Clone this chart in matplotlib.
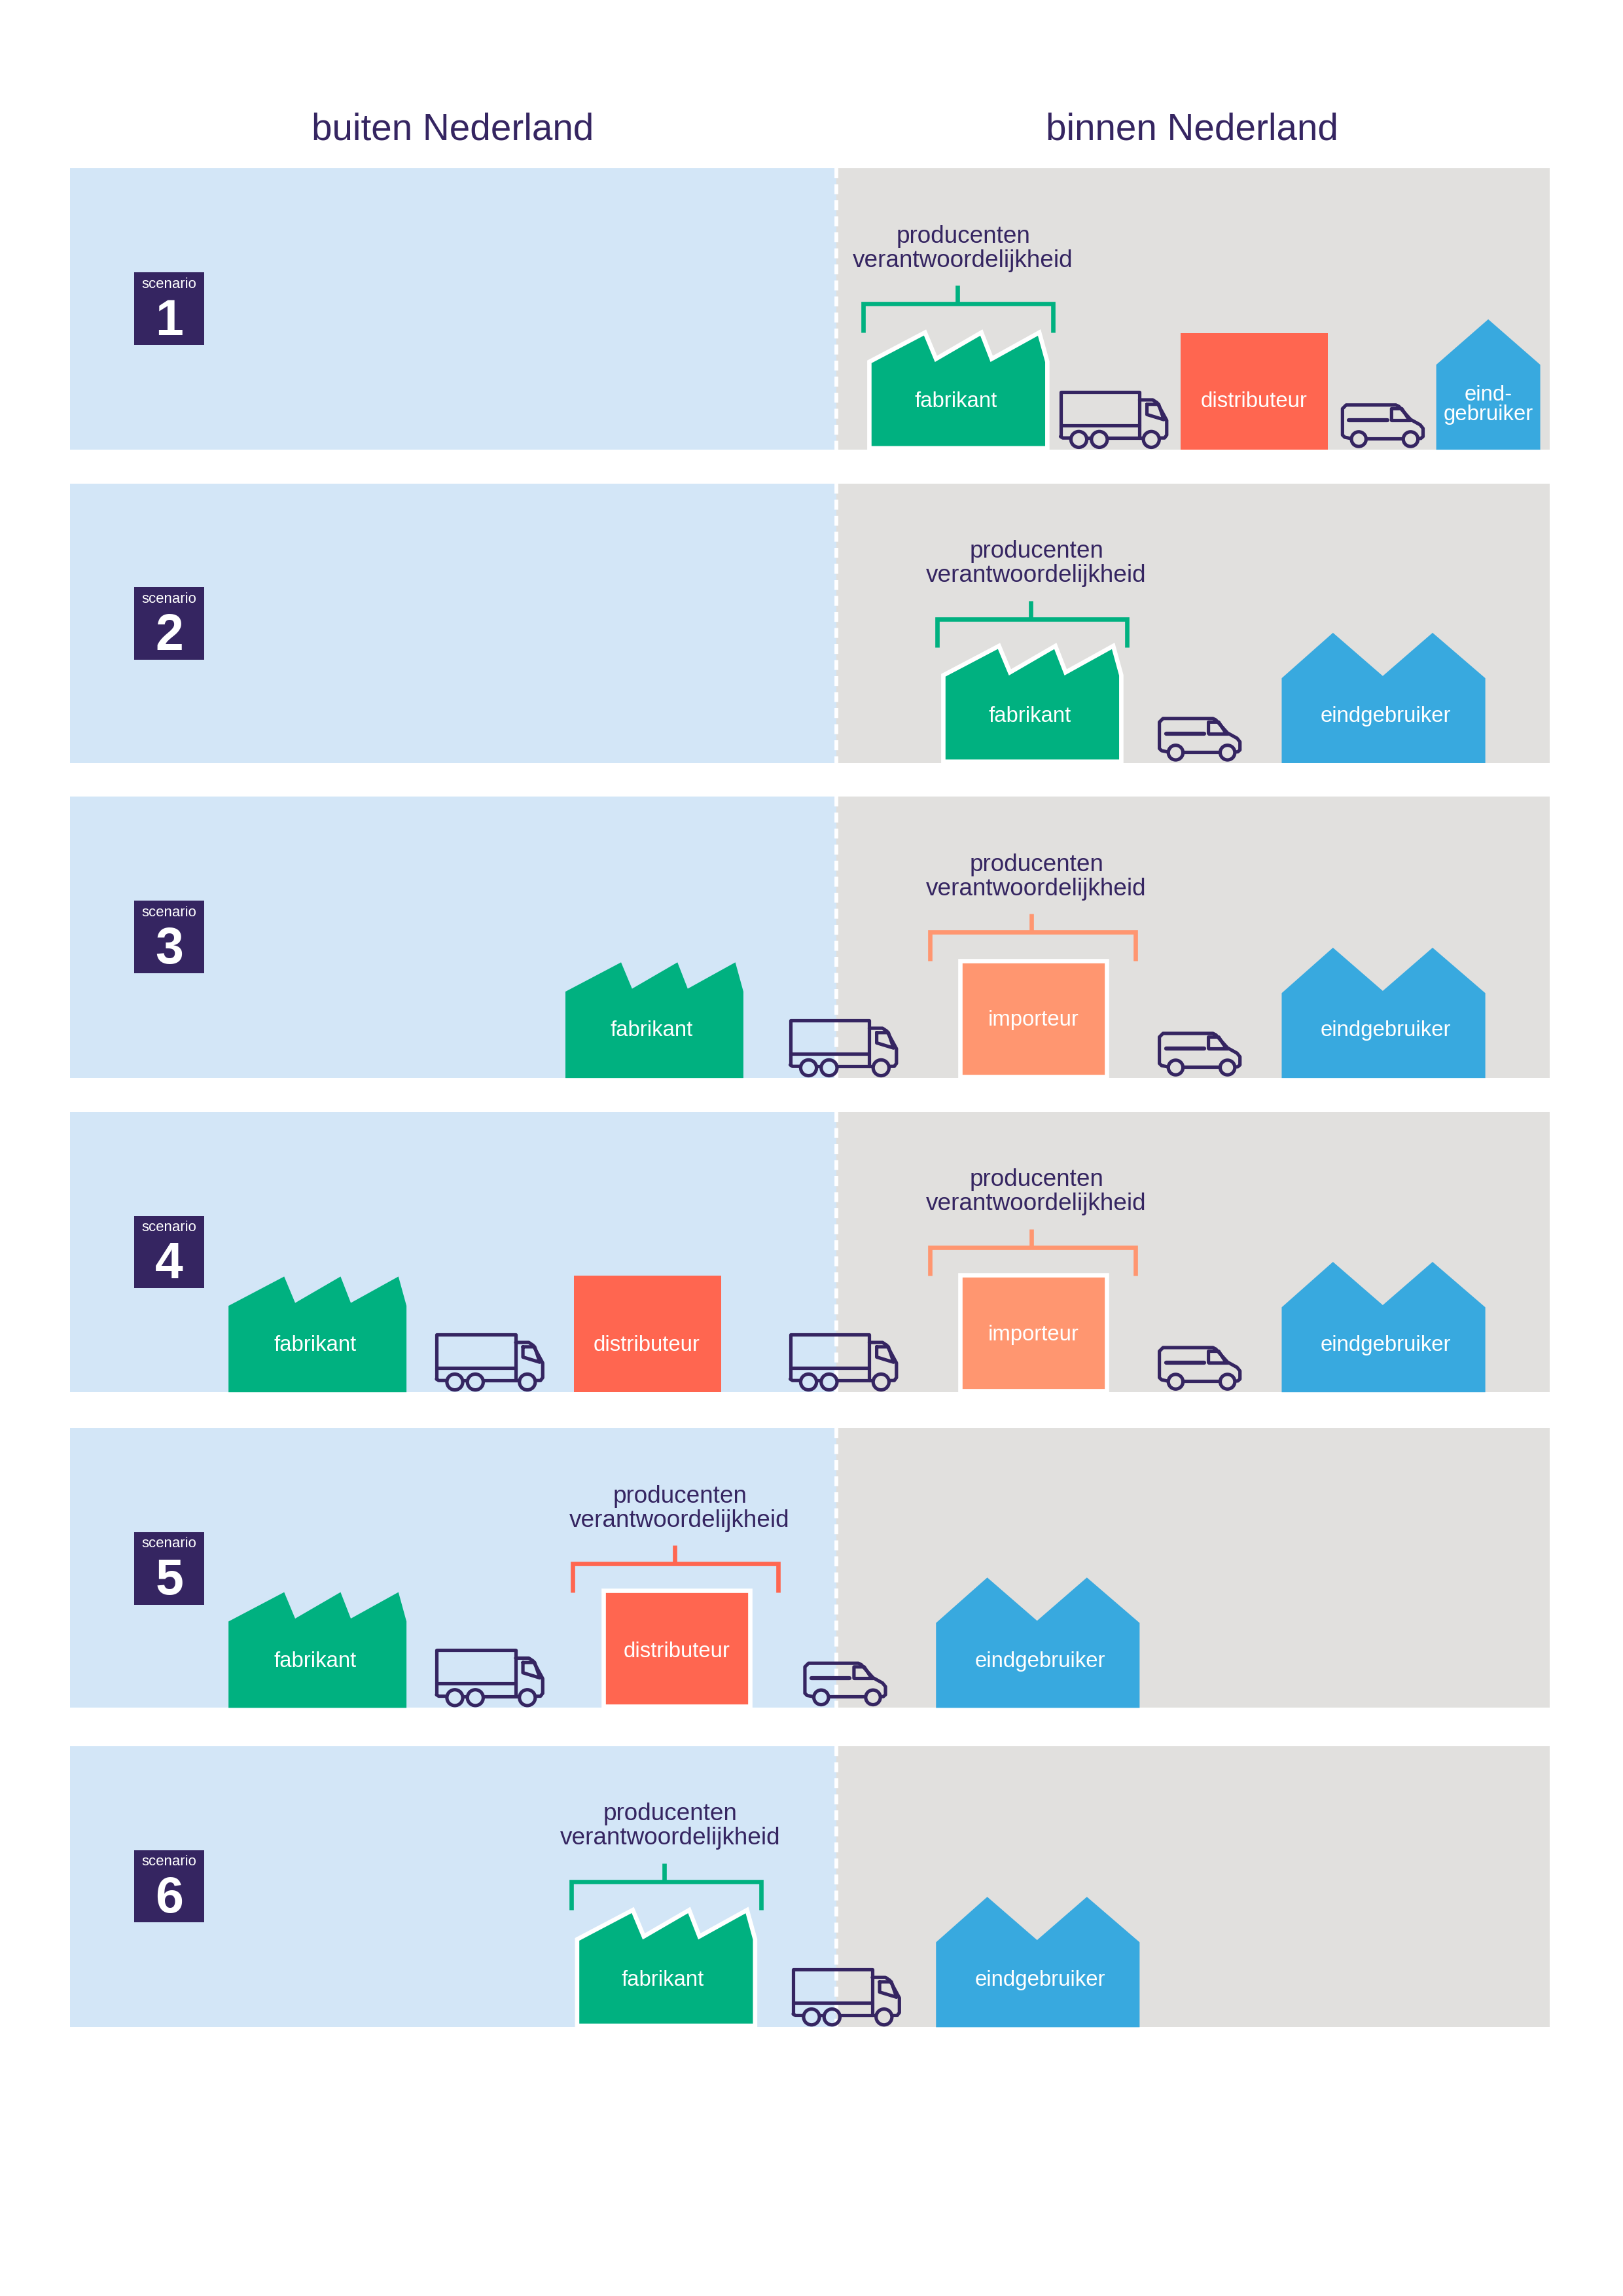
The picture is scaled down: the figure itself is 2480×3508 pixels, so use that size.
import matplotlib
matplotlib.use("Agg")
import matplotlib.pyplot as plt
from matplotlib.patches import Polygon, Rectangle, Circle

plt.rcParams['font.family'] = ['Liberation Sans', 'DejaVu Sans']

# Colours
NAVY = '#352561'
LIGHT_BLUE = '#D3E6F7'
GREY = '#E1E0DE'
GREEN = '#00B180'
RED = '#FF6650'
ORANGE = '#FF9670'
BLUE = '#38A9DF'

# Outline shapes, x from left edge, h up from the ground
FACTORY = [(0, 0), (0, 59), (38, 79), (45.5, 61), (76.5, 79), (83.5, 61), (116, 79), (121.5, 59), (121.5, 0)]
USER_DOUBLE = [(0, 0), (0, 58), (35, 89), (69, 59.5), (103, 89), (139, 58), (139, 0)]
USER_SINGLE = [(0, 0), (0, 58), (35.5, 89), (71, 58), (71, 0)]

# One entry per scenario: panel top/bottom and what stands in it
scenarios = [
    {'top': 115, 'bottom': 307,
     'text_x': 657.5,
     'bracket': (589.5, 719, 653.5, GREEN),
     'factory': [(593.5, 274, 652.5, True)],
     'dist': [(806, 274, 856, False)],
     'import': [],
     'user': [('single', 980.5, None, None)],
     'truck': [724], 'van': [916]},
    {'top': 330, 'bottom': 521,
     'text_x': 707.5,
     'bracket': (640, 769.5, 703.5, GREEN),
     'factory': [(644, 489, 703, True)],
     'dist': [], 'import': [],
     'user': [('double', 875, 946, 489)],
     'truck': [], 'van': [791]},
    {'top': 544, 'bottom': 736,
     'text_x': 707.5,
     'bracket': (635, 775, 704, ORANGE),
     'factory': [(386, 703.5, 445, False)],
     'dist': [],
     'import': [(655.5, 696.5, 705.5)],
     'user': [('double', 875, 946, 703.5)],
     'truck': [539.5], 'van': [791]},
    {'top': 759, 'bottom': 950.5,
     'text_x': 707.5,
     'bracket': (635, 775, 704, ORANGE),
     'factory': [(156, 918.5, 215, False)],
     'dist': [(392, 918.5, 441.5, False)],
     'import': [(655.5, 911.5, 705.5)],
     'user': [('double', 875, 946, 918.5)],
     'truck': [298, 539.5], 'van': [791]},
    {'top': 975, 'bottom': 1166,
     'text_x': 464,
     'bracket': (391, 531, 460.5, RED),
     'factory': [(156, 1134.5, 215, False)],
     'dist': [(412, 1127.5, 462, True)],
     'import': [],
     'user': [('double', 639, 710, 1134.5)],
     'truck': [298], 'van': [549]},
    {'top': 1192, 'bottom': 1384,
     'text_x': 457.5,
     'bracket': (390, 519.5, 453.5, GREEN),
     'factory': [(394, 1352, 452.5, True)],
     'dist': [], 'import': [],
     'user': [('double', 639, 710, 1352)],
     'truck': [541.5], 'van': []},
]

fig = plt.figure(figsize=(2480 / 300, 3508 / 300), dpi=300)
ax = fig.add_axes([0, 0, 1, 1])
ax.set_xlim(0, 1108)
ax.set_ylim(1567.5, 0)
ax.axis('off')


def building(outline, x0, ground, color, white_edge=False):
    pts = [(x0 + x, ground - h) for x, h in outline]
    ec = 'white' if white_edge else 'none'
    ax.add_patch(Polygon(pts, closed=True, facecolor=color, edgecolor=ec, lw=1.6, joinstyle='miter', zorder=3))


def line(pts, x0, ground, lw=1.25):
    ax.plot([x0 + p[0] for p in pts], [ground - p[1] for p in pts], color=NAVY, lw=lw,
            solid_joinstyle='round', solid_capstyle='round', zorder=4)


def wheel(x, y, r):
    ax.add_patch(Circle((x, y), r, facecolor='none', edgecolor=NAVY, lw=1.25, zorder=5))


def truck(x0, ground):
    line([(0, 8), (0, 38.5), (54, 38.5), (54, 7)], x0, ground)
    line([(0, 15.6), (54, 15.6)], x0, ground)
    line([(54, 33), (63, 33), (66, 31), (72.5, 19), (72.5, 9), (71, 7), (68, 7)], x0, ground)
    line([(59, 30), (67, 30), (70.5, 19.5), (59, 23), (59, 30)], x0, ground)
    line([(0, 8), (1.5, 7), (6.5, 7)], x0, ground)
    line([(18, 7), (20.5, 7)], x0, ground)
    line([(32, 7), (56, 7)], x0, ground)
    for wx in (12.5, 26.5, 62):
        wheel(x0 + wx, ground - 6, 5.4)


def van(x0, ground):
    line([(6, 6.7), (2, 7.5), (0.5, 9), (0.5, 27), (3, 29.5), (37, 29.5), (39, 28.5), (47, 19.6),
          (53.5, 16), (55.5, 13.5), (55.5, 8), (54, 6.7), (52.5, 6.7)], x0, ground)
    line([(17, 6.7), (41.5, 6.7)], x0, ground)
    line([(34, 19.3), (34, 27), (41, 27), (46, 19.3)], x0, ground)
    line([(5, 19.3), (31, 19.3)], x0, ground, lw=1.5)
    line([(34, 19.3), (47, 19.3)], x0, ground)
    for wx in (11.6, 47):
        wheel(x0 + wx, ground - 6.2, 5.0)


def label(x, y, s, color='white', size=7.9, weight='normal'):
    ax.text(x, y, s, color=color, fontsize=size, ha='center', va='center', fontweight=weight, zorder=6)


# Column titles
label(309, 88.5, 'buiten Nederland', NAVY, 13.6)
label(814, 88.5, 'binnen Nederland', NAVY, 13.6)

for n, sc in enumerate(scenarios, start=1):
    top, bottom = sc['top'], sc['bottom']
    ax.add_patch(Rectangle((48, top), 523, bottom - top, facecolor=LIGHT_BLUE, edgecolor='none', zorder=1))
    ax.add_patch(Rectangle((571, top), 487, bottom - top, facecolor=GREY, edgecolor='none', zorder=1))
    ax.plot([571, 571], [top, bottom], color='white', lw=1.4, dashes=(2.6, 1.6), dash_capstyle='butt', zorder=2)

    # scenario badge
    ax.add_patch(Rectangle((91.5, top + 71), 48, 49.5, facecolor=NAVY, edgecolor='none', zorder=3))
    label(115.5, top + 79, 'scenario', 'white', 5.3)
    label(115.5, top + 104.5, str(n), 'white', 18.5, 'bold')

    # bracket above the responsible party
    left, right, stem, col = sc['bracket']
    ax.plot([left, left, right, right], [top + 112, top + 92.5, top + 92.5, top + 112], color=col, lw=1.6,
            solid_joinstyle='miter', solid_capstyle='butt', zorder=3)
    ax.plot([stem, stem], [top + 80, top + 92.5], color=col, lw=1.6, solid_capstyle='butt', zorder=3)
    label(sc['text_x'], top + 46.5, 'producenten', NAVY, 8.85)
    label(sc['text_x'], top + 63, 'verantwoordelijkheid', NAVY, 8.85)

    for x0, ty, tx, edge in sc['factory']:
        building(FACTORY, x0, bottom - (1 if edge else 0), GREEN, edge)
        label(tx, ty, 'fabrikant')
    for x0, ty, tx, edge in sc['dist']:
        if edge:
            ax.add_patch(Rectangle((x0, bottom - 80), 100, 79, facecolor=RED, edgecolor='white', lw=1.6, zorder=3))
        else:
            ax.add_patch(Rectangle((x0, bottom - 79.5), 100.5, 79.5, facecolor=RED, edgecolor='none', zorder=3))
        label(tx, ty, 'distributeur')
    for x0, ty, tx in sc['import']:
        ax.add_patch(Rectangle((x0, bottom - 80), 100, 79, facecolor=ORANGE, edgecolor='white', lw=1.6, zorder=3))
        label(tx, ty, 'importeur')
    for kind, x0, tx, ty in sc['user']:
        if kind == 'single':
            building(USER_SINGLE, x0, bottom, BLUE)
            label(x0 + 35.5, bottom - 37.5, 'eind-')
            label(x0 + 35.5, bottom - 24, 'gebruiker')
        else:
            building(USER_DOUBLE, x0, bottom, BLUE)
            label(tx, ty, 'eindgebruiker')
    for x0 in sc['truck']:
        truck(x0, bottom - 1)
    for x0 in sc['van']:
        van(x0, bottom - 1)

fig.savefig('out.png', dpi=300)
